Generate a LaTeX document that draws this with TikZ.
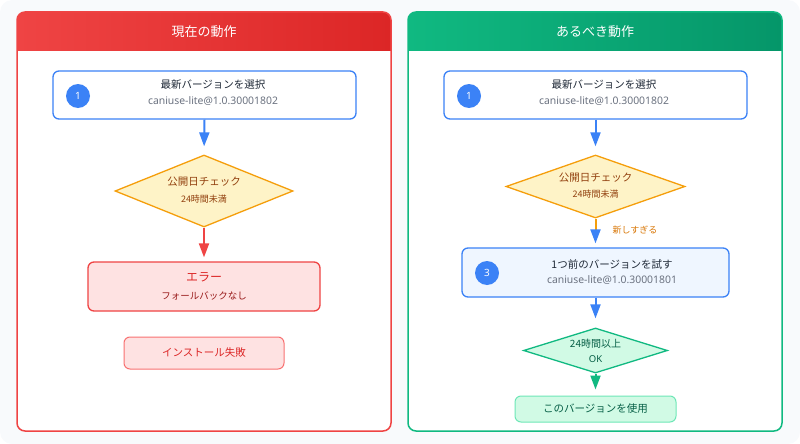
\documentclass[tikz,border=0pt]{standalone}
\usepackage{fontspec}
\setmainfont{Noto Sans CJK JP}
\newfontfamily\latinfont{Noto Sans}
\usetikzlibrary{shapes.geometric,arrows.meta}
\definecolor{bg}{HTML}{F8FAFC}
\definecolor{redA}{HTML}{EF4444}
\definecolor{redB}{HTML}{DC2626}
\definecolor{redL}{HTML}{F87171}
\definecolor{redFill}{HTML}{FEE2E2}
\definecolor{redDark}{HTML}{991B1B}
\definecolor{grnA}{HTML}{10B981}
\definecolor{grnB}{HTML}{059669}
\definecolor{grnL}{HTML}{6EE7B7}
\definecolor{grnFill}{HTML}{D1FAE5}
\definecolor{grnDark}{HTML}{065F46}
\definecolor{blu}{HTML}{3B82F6}
\definecolor{bluFill}{HTML}{EFF6FF}
\definecolor{amb}{HTML}{F59E0B}
\definecolor{ambFill}{HTML}{FEF3C7}
\definecolor{ambText}{HTML}{92400E}
\definecolor{ambLabel}{HTML}{D97706}
\definecolor{txt}{HTML}{1F2937}
\definecolor{sub}{HTML}{6B7280}
\tikzset{
  box/.style={draw, rounded corners=6pt, line width=1.3pt, inner sep=0pt},
  dia/.style={diamond, draw, line width=1.3pt, inner sep=0pt},
  num/.style={circle, fill=blu, minimum size=24pt, inner sep=0pt, text=white, font=\latinfont\fontsize{10}{11}\selectfont},
  tl/.style={font=\fontsize{10.5}{12}\selectfont, text=txt, inner sep=0pt},
  sl/.style={font=\latinfont\fontsize{10.4}{12}\selectfont, text=sub, inner sep=0pt},
  arr/.style={line width=2pt, -{Triangle[length=14pt,width=10pt]}},
  ttl/.style={font=\fontsize{13}{15}\selectfont, text=white, inner sep=0pt}
}
\begin{document}
\begin{tikzpicture}[x=1pt,y=-1pt]
\useasboundingbox (0,0) rectangle (800,444);
\fill[bg, rounded corners=12pt] (0,0) rectangle (800,444);
% left panel
\fill[white, rounded corners=8pt] (17,12) rectangle (391,431);
\begin{scope}
\clip[rounded corners=8pt] (17,12) rectangle (391,431);
\shade[left color=redA, right color=redB] (17,12) rectangle (391,51);
\end{scope}
\draw[redA, line width=1.5pt, rounded corners=8pt] (17,12) rectangle (391,431);
\node[ttl] (lt) at (204,32) {現在の動作};
% right panel
\fill[white, rounded corners=8pt] (408,12) rectangle (782,431);
\begin{scope}
\clip[rounded corners=8pt] (408,12) rectangle (782,431);
\shade[left color=grnA, right color=grnB] (408,12) rectangle (782,51);
\end{scope}
\draw[grnA, line width=1.5pt, rounded corners=8pt] (408,12) rectangle (782,431);
\node[ttl] (rt) at (595,32) {あるべき動作};

% ---- left flow
\node[box, draw=blu, fill=white, minimum width=303pt, minimum height=48pt] (l1) at (204.5,95) {};
\node[num] (l1n) at (78,96) {1};
\node[tl] (l1t) at (213,85) {最新バージョンを選択};
\node[sl] (l1s) at (213,101) {caniuse-lite@1.0.30001802};

\node[dia, draw=amb, fill=ambFill, minimum width=178pt, minimum height=72pt] (l2) at (204,191) {};
\node[font=\fontsize{10.5}{12}\selectfont, text=ambText, inner sep=0pt] (l2t) at (204,182) {公開日チェック};
\node[font=\fontsize{9}{10}\selectfont, text=ambText, inner sep=0pt] (l2s) at (204,199) {24時間未満};

\node[box, draw=redA, fill=redFill, minimum width=232pt, minimum height=49pt] (l3) at (204,286.5) {};
\node[font=\fontsize{12}{14}\selectfont, text=redB, inner sep=0pt] (l3t) at (204,277) {エラー};
\node[font=\fontsize{9.5}{11}\selectfont, text=redDark, inner sep=0pt] (l3s) at (204,296) {フォールバックなし};

\node[box, draw=redL, line width=1pt, fill=redFill, minimum width=160pt, minimum height=32pt] (l4) at (204,353) {};
\node[font=\fontsize{10.5}{12}\selectfont, text=redB, inner sep=0pt] (l4t) at (204,353) {インストール失敗};

\draw[arr, blu, shorten >=8pt] (l1.south) -- (l2.north);
\draw[arr, redA, shorten >=4pt] (l2.south) -- (l3.north);

% ---- right flow
\node[box, draw=blu, fill=white, minimum width=303pt, minimum height=48pt] (r1) at (595.5,95) {};
\node[num] (r1n) at (469,96) {1};
\node[tl] (r1t) at (604,85) {最新バージョンを選択};
\node[sl] (r1s) at (604,101) {caniuse-lite@1.0.30001802};

\node[dia, draw=amb, fill=ambFill, minimum width=179pt, minimum height=63pt] (r2) at (595.5,186.5) {};
\node[font=\fontsize{10.5}{12}\selectfont, text=ambText, inner sep=0pt] (r2t) at (595.5,178) {公開日チェック};
\node[font=\fontsize{9}{10}\selectfont, text=ambText, inner sep=0pt] (r2s) at (595.5,194) {24時間未満};

\node[box, draw=blu, fill=bluFill, minimum width=267pt, minimum height=49pt] (r3) at (595.5,272.5) {};
\node[num] (r3n) at (487,273) {3};
\node[tl] (r3t) at (612,264) {1つ前のバージョンを試す};
\node[sl] (r3s) at (612,280.5) {caniuse-lite@1.0.30001801};

\node[dia, draw=grnA, fill=grnFill, minimum width=144pt, minimum height=45pt] (r4) at (595.5,350.5) {};
\node[font=\fontsize{10}{12}\selectfont, text=grnDark, inner sep=0pt] (r4t) at (595.5,344) {24時間以上};
\node[font=\latinfont\fontsize{9.5}{11}\selectfont, text=grnDark, inner sep=0pt] (r4s) at (595.5,359) {OK};

\node[box, draw=grnL, line width=1pt, fill=grnFill, minimum width=161pt, minimum height=26pt] (r5) at (595.5,409) {};
\node[font=\fontsize{10.5}{12}\selectfont, text=grnDark, inner sep=0pt] (r5t) at (595.5,409) {このバージョンを使用};

\draw[arr, blu, shorten >=8pt] (r1.south) -- (r2.north);
\draw[line width=2pt, amb, -{Triangle[length=14pt,width=10pt,color=blu]}, shorten >=4pt] (r2.south) -- (r3.north);
\node[font=\fontsize{9}{10}\selectfont, text=ambLabel, inner sep=0pt] (rlab) at (635,230) {新しすぎる};
\draw[arr, blu, shorten >=9pt] (r3.south) -- (r4.north);
\draw[arr, grnA, shorten >=6pt] (r4.south) -- (r5.north);
\end{tikzpicture}
\end{document}
